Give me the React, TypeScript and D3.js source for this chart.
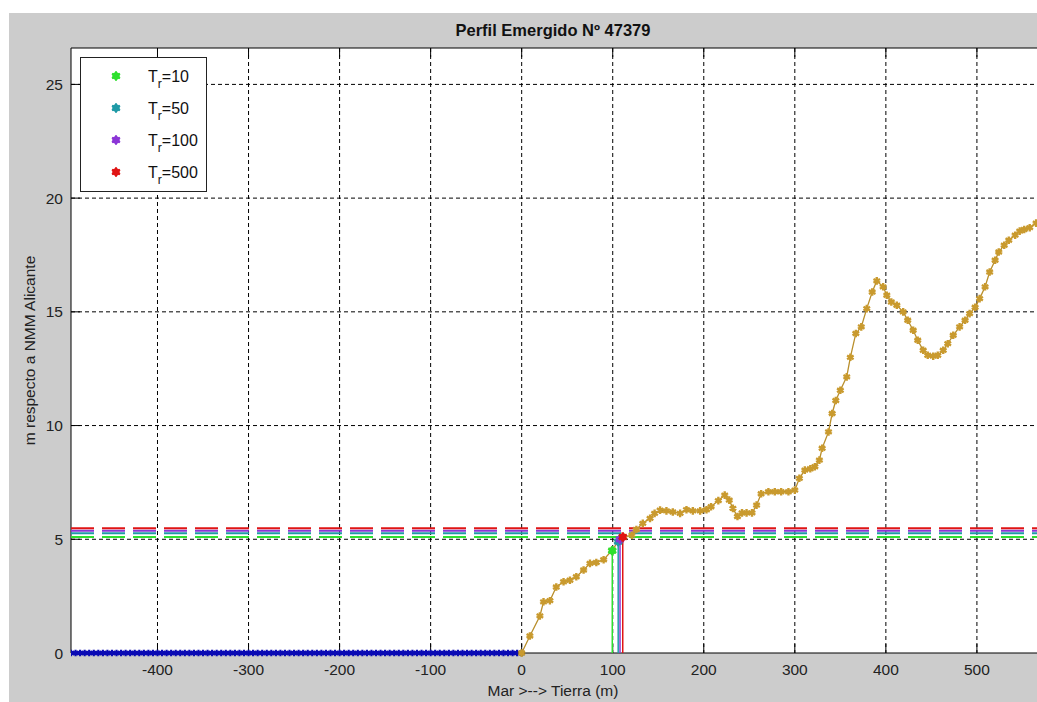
import * as d3 from 'd3';

// sea side of the profile: flat at the reference level
const seaLevel = 0;
const seaX = [
  -495, -490, -485, -480, -475, -470, -465, -460, -455, -450, -445, -440, -435, -430, -425, -420, -415, -410, -405, -400,
  -395, -390, -385, -380, -375, -370, -365, -360, -355, -350, -345, -340, -335, -330, -325, -320, -315, -310, -305, -300,
  -295, -290, -285, -280, -275, -270, -265, -260, -255, -250, -245, -240, -235, -230, -225, -220, -215, -210, -205, -200,
  -195, -190, -185, -180, -175, -170, -165, -160, -155, -150, -145, -140, -135, -130, -125, -120, -115, -110, -105, -100,
  -95, -90, -85, -80, -75, -70, -65, -60, -55, -50, -45, -40, -35, -30, -25, -20, -15, -10, -5, 0,
];

// emerged profile
const landX = [
  0, 9, 20, 24, 31, 38, 46, 53, 60, 68, 75, 82, 90, 99, 106, 112, 121, 126, 133, 141,
  146, 152, 159, 166, 174, 181, 188, 196, 203, 208, 216, 223, 228, 232, 237, 242, 247, 253, 258, 263,
  271, 278, 285, 293, 300, 305, 311, 317, 322, 327, 330, 337, 341, 345, 350, 357, 361, 367, 373, 379,
  385, 390, 397, 401, 406, 412, 419, 424, 430, 435, 441, 446, 452, 457, 463, 468, 474, 481, 487, 492,
  498, 503, 509, 514, 520, 524, 530, 535, 542, 547, 552, 558, 565, 572,
];
const landY = [
  0, 0.75, 1.63, 2.25, 2.3, 2.9, 3.13, 3.2, 3.35, 3.65, 3.94, 3.98, 4.1, 4.5, 4.9, 5.1, 5.18, 5.43, 5.7, 5.92,
  6.14, 6.28, 6.25, 6.2, 6.14, 6.3, 6.25, 6.25, 6.3, 6.43, 6.7, 6.94, 6.72, 6.36, 6.0, 6.16, 6.16, 6.16, 6.5, 7.0,
  7.09, 7.09, 7.09, 7.09, 7.16, 7.68, 8.04, 8.1, 8.19, 8.48, 9.0, 9.72, 10.53, 11.1, 11.55, 12.14, 13.0, 14.05, 14.34, 15.14,
  15.87, 16.36, 16.1, 15.73, 15.43, 15.29, 15.0, 14.63, 14.19, 13.75, 13.31, 13.09, 13.05, 13.09, 13.31, 13.6, 13.97, 14.34, 14.63, 14.92,
  15.2, 15.58, 16.1, 16.75, 17.27, 17.63, 17.93, 18.15, 18.37, 18.55, 18.62, 18.7, 18.9, 19.1,
];

// return periods: run-up level and where it cuts the profile
const periods = ['10', '50', '100', '500'];
const runupLevel = [5.1, 5.27, 5.38, 5.48];
const crossX = [99.5, 106, 108, 111];
const crossY = [4.5, 4.9, 5.0, 5.1];
const periodColors = ['#2ee02e', '#1f9aa6', '#8b35d6', '#e01414'];

const xTicks = [-400, -300, -200, -100, 0, 100, 200, 300, 400, 500];
const yTicks = [0, 5, 10, 15, 20, 25];

const W = 1037;
const H = 702;
const L = 71, T = 48, R = 1037, B = 653;
const font = 'Liberation Sans, Arial, sans-serif';

export default function App() {
  const x = d3.scaleLinear().domain([-495, 566]).range([L, R]);
  const y = d3.scaleLinear().domain([0, 26.6]).range([B, T]);

  const line = d3.line<[number, number]>().x(d => x(d[0])).y(d => y(d[1]));
  const seaPts: [number, number][] = seaX.map(v => [v, seaLevel]);
  const landPts: [number, number][] = landX.map((v, i) => [v, landY[i]]);

  const smallStar = d3.symbol().type(d3.symbolAsterisk).size(30)() as string;
  const goldStar = d3.symbol().type(d3.symbolAsterisk).size(40)() as string;
  const bigStar = d3.symbol().type(d3.symbolAsterisk).size(60)() as string;

  const tick = 9;

  return (
    <svg width={W} height={H} style={{ position: 'fixed', left: 0, top: 0 }}>
      <defs>
        <clipPath id="plotclip">
          <rect x={L} y={T - 5} width={R - L} height={B - T + 10} />
        </clipPath>
      </defs>
      <rect width={W} height={H} fill="#fff" />
      <rect x={9} y={13} width={W - 9} height={H - 13} fill="#cccccc" />
      <rect x={L} y={T} width={R - L} height={B - T} fill="#fff" />

      {/* grid */}
      <g stroke="#000" strokeWidth={1} strokeDasharray="4,3">
        {xTicks.map(t => (
          <line key={'gx' + t} x1={x(t)} x2={x(t)} y1={T} y2={B} />
        ))}
        {yTicks.filter(t => t > 0).map(t => (
          <line key={'gy' + t} x1={L} x2={R} y1={y(t)} y2={y(t)} />
        ))}
      </g>

      {/* axes */}
      <g stroke="#000" strokeWidth={1}>
        <line x1={L} x2={R} y1={T} y2={T} />
        <line x1={L} x2={R} y1={B} y2={B} />
        <line x1={L} x2={L} y1={T} y2={B} />
        {xTicks.map(t => (
          <g key={'tx' + t}>
            <line x1={x(t)} x2={x(t)} y1={B} y2={B - tick} />
            <line x1={x(t)} x2={x(t)} y1={T} y2={T + tick} />
          </g>
        ))}
        {yTicks.map(t => (
          <line key={'ty' + t} x1={L} x2={L + tick} y1={y(t)} y2={y(t)} />
        ))}
      </g>

      <g clipPath="url(#plotclip)">
        {/* run-up levels */}
        {periods.map((p, i) => (
          <line
            key={'h' + p}
            x1={L}
            x2={R}
            y1={y(runupLevel[i])}
            y2={y(runupLevel[i])}
            stroke={periodColors[i]}
            strokeWidth={2}
            strokeDasharray="23,8"
          />
        ))}

        {/* sea */}
        <path d={line(seaPts) as string} fill="none" stroke="#0a0ab4" strokeWidth={1.5} />
        {seaPts.map((d, i) => (
          <path
            key={'s' + i}
            d={smallStar}
            transform={`translate(${x(d[0])},${y(d[1])})`}
            fill="none"
            stroke={d[0] === 0 ? '#000' : '#0a0ab4'}
            strokeWidth={2.2}
          />
        ))}

        {/* land */}
        <path d={line(landPts) as string} fill="none" stroke="#b98f2c" strokeWidth={1.3} />
        {landPts.map((d, i) => (
          <path
            key={'l' + i}
            d={goldStar}
            transform={`translate(${x(d[0])},${y(d[1])})`}
            fill="none"
            stroke="#c99a2e"
            strokeWidth={2.4}
          />
        ))}

        {/* vertical drops */}
        {periods.map((p, i) => (
          <line
            key={'v' + p}
            x1={x(crossX[i])}
            x2={x(crossX[i])}
            y1={y(crossY[i])}
            y2={y(0)}
            stroke={periodColors[i]}
            strokeWidth={1.5}
          />
        ))}
        {periods.map((p, i) => (
          <g key={'m' + p} transform={`translate(${x(crossX[i])},${y(crossY[i])})`}>
            <circle r={3.6} fill={periodColors[i]} />
            <path d={bigStar} fill="none" stroke={periodColors[i]} strokeWidth={2.5} />
          </g>
        ))}
      </g>

      {/* tick labels */}
      <g fontFamily={font} fontSize={15.5} fill="#222">
        {xTicks.map(t => (
          <text key={'lx' + t} x={x(t)} y={675} textAnchor="middle">
            {t}
          </text>
        ))}
        {yTicks.map(t => (
          <text key={'ly' + t} x={63} y={y(t)} dy="0.36em" textAnchor="end">
            {t}
          </text>
        ))}
      </g>

      {/* titles */}
      <text x={553} y={36} textAnchor="middle" fontFamily={font} fontWeight="bold" fontSize={16.5} fill="#111">
        Perfil Emergido Nº 47379
      </text>
      <text x={553} y={696} textAnchor="middle" fontFamily={font} fontSize={15.5} fill="#222">
        Mar &gt;--&gt; Tierra (m)
      </text>
      <text
        transform={`translate(35,${(T + B) / 2}) rotate(-90)`}
        textAnchor="middle"
        fontFamily={font}
        fontSize={15.5}
        fill="#222"
      >
        m respecto a NMM Alicante
      </text>

      {/* legend */}
      <rect x={80.5} y={57.5} width={126} height={134} fill="#fff" stroke="#222" strokeWidth={1} />
      {periods.map((p, i) => (
        <g key={'lg' + p} transform={`translate(0,${76 + i * 32})`}>
          <circle cx={116} cy={0} r={3.8} fill={periodColors[i]} />
          <path d={bigStar} transform="translate(116,0)" fill="none" stroke={periodColors[i]} strokeWidth={2} />
          <text x={148} y={0} dy="0.36em" fontFamily={font} fontSize={16} fill="#111">
            T
            <tspan fontSize={12} dy={6}>r</tspan>
            <tspan dy={-6}>={p}</tspan>
          </text>
        </g>
      ))}
    </svg>
  );
}
